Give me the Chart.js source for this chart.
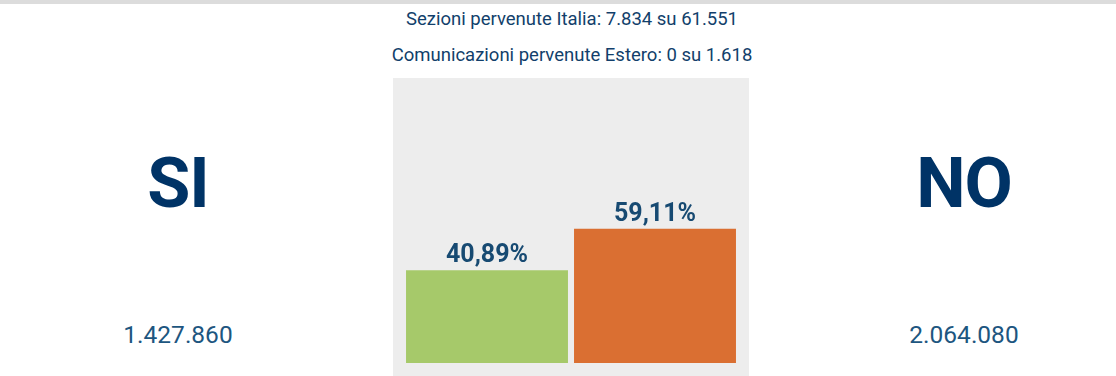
<!DOCTYPE html>
<html>
<head>
<meta charset="utf-8">
<script src="https://cdn.jsdelivr.net/npm/chart.js@4"></script>
<style>
    html, body { margin: 0; padding: 0; background: #fff; }
    body { width: 1116px; height: 376px; position: relative; overflow: hidden; font-family: Roboto, sans-serif; }
    .topline { position: absolute; left: 0; top: 0; width: 1116px; height: 4px; background: #dcdcdc; }
    .info { position: absolute; left: 322px; width: 500px; text-align: center; color: #123f6b; font-size: 18.5px; }
    .box { position: absolute; left: 393px; top: 78px; width: 356px; height: 298px; background: #ededed; }
    .side { position: absolute; width: 300px; text-align: center; }
    .answer { font-weight: 700; font-size: 70px; color: #003366; top: 142px; letter-spacing: -1px; }
    .votes { font-size: 24.5px; color: #1d5680; top: 320px; }
</style>
</head>
<body>
<div class="topline"></div>
<div class="info" id="info1" style="top: 8px;"></div>
<div class="info" id="info2" style="top: 44px;"></div>
<div class="side answer" id="answer0" style="left: 28px;"></div>
<div class="side answer" id="answer1" style="left: 814px;"></div>
<div class="side votes" id="votes0" style="left: 28px;"></div>
<div class="side votes" id="votes1" style="left: 814px;"></div>
<div class="box"><canvas id="resultChart" width="356" height="298"></canvas></div>
<script>
const categories = ['SI', 'NO'];
const percentages = [40.89, 59.11];
const votes = ['1.427.860', '2.064.080'];
const infoLines = [
    'Sezioni pervenute Italia: 7.834 su 61.551',
    'Comunicazioni pervenute Estero: 0 su 1.618'
];
const barColors = ['#a6c96a', '#da6f32'];

document.getElementById('info1').innerText = infoLines[0];
document.getElementById('info2').innerText = infoLines[1];
categories.forEach((cat, i) => {
    document.getElementById('answer' + i).innerText = cat;
    document.getElementById('votes' + i).innerText = votes[i];
});

// percent labels above the bars
const barLabels = {
    id: 'barLabels',
    afterDatasetsDraw(chart) {
        const ctx = chart.ctx;
        const meta = chart.getDatasetMeta(0);
        ctx.save();
        ctx.font = '700 25px Roboto, sans-serif';
        ctx.fillStyle = '#174a72';
        ctx.textAlign = 'center';
        ctx.textBaseline = 'bottom';
        meta.data.forEach((bar, i) => {
            const text = percentages[i].toFixed(2).replace('.', ',') + '%';
            ctx.fillText(text, bar.x, bar.y - 2);
        });
        ctx.restore();
    }
};

const ctx = document.getElementById('resultChart').getContext('2d');
new Chart(ctx, {
    type: 'bar',
    data: {
        labels: categories,
        datasets: [{
            data: percentages,
            backgroundColor: barColors,
            borderWidth: 0,
            barPercentage: 1,
            categoryPercentage: 0.964
        }]
    },
    options: {
        responsive: false,
        animation: false,
        layout: { padding: { left: 10, right: 10, top: 58, bottom: 13 } },
        plugins: { legend: { display: false }, tooltip: { enabled: false } },
        scales: {
            x: { display: false },
            y: { display: false, min: 0, max: 100 }
        }
    },
    plugins: [barLabels]
});
</script>
</body>
</html>
